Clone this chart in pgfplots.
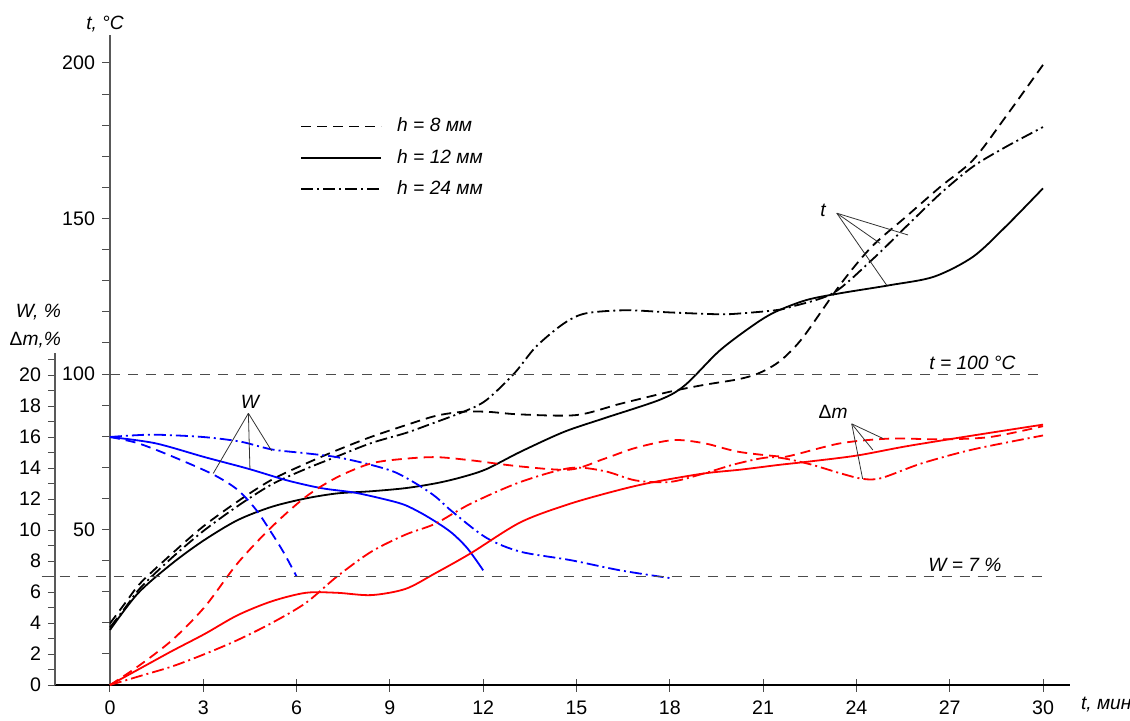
\documentclass[border=0pt]{standalone}
\usepackage{fontspec}
\setmainfont{Liberation Sans}
\usepackage{pgfplots}
\pgfplotsset{compat=1.18}
\pgfplotsset{
  base/.style={scale only axis, clip=false,
    tick label style={font=\fontsize{9.8}{11}\selectfont, black},
    /pgf/number format/assume math mode=true,
    axis line style={-},
    every tick/.style={black!70, line width=0.5pt}},
}
\tikzset{
  dsh/.style={line width=0.9pt, dash pattern=on 5pt off 3pt},
  sol/.style={line width=0.9pt},
  dd/.style={line width=0.9pt, dash pattern=on 6pt off 2pt on 1pt off 2pt},
  ann/.style={line width=0.4pt, black!80},
}
\begin{document}
\begin{tikzpicture}[font=\fontsize{9.6}{11}\selectfont]
\useasboundingbox (-27.5pt,-17.5pt) rectangle (537.5pt,342.5pt);

% ---------- x axis ----------
\begin{axis}[base, at={(0pt,0pt)}, anchor=south west,
  width=507.5pt, height=325pt,
  xmin=-1.768, xmax=30.868, ymin=0, ymax=209,
  axis x line=bottom, axis y line=none,
  x axis line style={-, black, line width=0.6pt},
  xtick={0,3,...,30}, tick align=center, major tick length=6.5pt,
  xticklabel style={yshift=-1pt}]
\node[anchor=west, font=\fontsize{9.6}{11}\selectfont\itshape] at (axis cs:30.868,0) [xshift=2pt, yshift=-10pt] {t, мин};
\end{axis}

% ---------- t axis with black curves ----------
\begin{axis}[base, at={(27.5pt,0pt)}, anchor=south west,
  width=466.5pt, height=325pt,
  xmin=0, xmax=30, ymin=0, ymax=209,
  axis y line=left, axis x line=none,
  y axis line style={-, black!65, line width=0.6pt},
  every outer y axis line/.append style={-},
  ytick={50,100,150,200}, minor ytick={10,20,...,200},
  tick align=outside, major tick length=4pt, minor tick length=4pt,
  legend style={at={(axis cs:6.11,169.5)}, anchor=west, draw=none, fill=none,
    inner sep=0pt, row sep=7.2pt, column sep=7.5pt,
    font=\fontsize{9.6}{11}\selectfont\itshape,
    nodes={inner sep=0pt}},
  legend cell align=left,
  legend image code/.code={\draw[#1] (0pt,0pt) -- (40pt,0pt);}]
\addplot[black, dsh, smooth, tension=0.5] table {
0 19.8
0.5 26.5
1 33
2 42.3
3 51
4.1 59
5.2 66
6.3 71.2
7.3 75.5
8.4 79.8
9.5 83.5
10.5 86.6
11.4 87.9
12.2 87.8
13.2 87
15 86.8
16.4 90.4
18 94.3
19.1 96.5
20.2 98.3
20.8 100
21.3 102.5
21.7 105.5
22.3 112
23.5 129
24.5 141
25.6 150.6
26.7 160.2
27.75 168.8
28.8 182.7
30 199.4
};
\addlegendentry{h = 8 мм}
\addplot[black, sol, smooth, tension=0.5] table {
0 17.7
0.9 29.5
2 39.1
3 46.4
4.1 53
5.2 57.3
6.3 60
7.3 61.6
8.4 62.3
9.5 63.3
10.5 64.9
11.3 66.8
12.1 69.4
13.2 75
14.6 81.4
15.9 85.8
17.7 91.8
18.5 96.5
19.6 107.5
20.7 115.8
21.4 120
22.4 123.8
23.5 126
25.1 128.6
26.5 131.3
27.75 137.7
28.8 147.4
30 159.7
};
\addlegendentry{h = 12 мм}
\addplot[black, dd, smooth, tension=0.5] table {
0 18.5
0.5 25
1 31.5
2 41
3 49.5
4.1 57.5
5.2 64.5
6.3 69.5
7.3 73.5
8.4 77.8
9.5 81
10.2 83.5
11.4 88
12.1 91.6
13 100.2
13.7 108.8
14.6 116.3
15.3 119.5
16.6 120.5
18 119.8
19.6 119.2
20.3 119.5
21.4 120.5
21.9 121.6
23.25 126
24.5 136.7
25.6 147.4
26.7 158
27.75 166.7
28.8 173
30 179.4
};
\addlegendentry{h = 24 мм}
\addplot[black!70, line width=0.5pt, dash pattern=on 5pt off 4pt, forget plot] coordinates {(0,100) (30,100)};
\node[font=\fontsize{9.6}{11}\selectfont\itshape] at (axis cs:27.73,103.7) {t = 100 °C};
\node[font=\fontsize{9.6}{11}\selectfont\itshape] at (axis cs:-0.16,212.5) {t, °C};
% annotation t
\node[font=\fontsize{9.6}{11}\selectfont\itshape] at (axis cs:22.93,152.7) {t};
\draw[ann] (axis cs:23.37,151.7) -- (axis cs:25.66,144.7);
\draw[ann] (axis cs:23.37,151.7) -- (axis cs:24.76,142.0);
\draw[ann] (axis cs:23.37,151.7) -- (axis cs:24.97,128.6);
\end{axis}

% ---------- W / dm axis with blue and red curves ----------
\begin{axis}[base, at={(0pt,0pt)}, anchor=south west,
  width=507.5pt, height=166pt,
  xmin=-1.768, xmax=30.868, ymin=0, ymax=21.42,
  axis y line=left, axis x line=none,
  y axis line style={-, black!65, line width=0.6pt},
  every outer y axis line/.append style={-},
  ytick={0,2,...,20}, minor ytick={1,3,...,21},
  tick align=outside, major tick length=3.5pt, minor tick length=3.5pt]
% W curves (blue)
\addplot[blue, dsh, smooth, tension=0.5] table {
0 16
0.9 15.6
2 14.75
3.3 13.6
4.1 12.6
4.7 11.3
5.2 9.8
5.6 8.5
6 7.0
};
\addplot[blue, sol, smooth, tension=0.5] table {
0 16
1.45 15.6
3.05 14.7
4.45 13.95
5.7 13.2
6.8 12.7
7.9 12.4
9 11.9
9.5 11.6
10 11.1
10.5 10.5
11 9.8
11.5 8.8
12 7.4
};
\addplot[blue, dd, smooth, tension=0.5] table {
0 16
0.7 16.1
1.5 16.15
3 16.0
4.2 15.7
5.2 15.2
6.3 14.95
7.3 14.7
8.4 14.2
9.2 13.7
10 12.8
10.5 12.1
11 11.2
12.1 9.5
13.2 8.6
14.8 8.06
16.4 7.4
18 6.9
};
% dm curves (red)
\addplot[red, dsh, smooth, tension=0.5] table {
0 0
0.9 1.2
2 2.9
3.05 5.05
4.1 7.85
5.2 10.2
6.3 12.15
7.3 13.4
8.4 14.3
9.5 14.6
10.5 14.7
11.6 14.5
13.2 14.1
14.8 13.9
15.9 14.6
16.9 15.3
18.1 15.8
19.1 15.6
20.2 15.05
21.5 14.75
21.9 14.8
23.5 15.6
25.1 15.9
26.7 15.85
28.3 16.0
30 16.7
};
\addplot[red, sol, smooth, tension=0.5] table {
0 0
1 1.1
2 2.2
3.05 3.3
4.1 4.5
5.2 5.4
6.3 5.95
7.3 5.95
8.4 5.8
9.5 6.2
10.45 7.2
11.6 8.5
13.2 10.5
14.8 11.7
16.4 12.6
17.5 13.1
19.1 13.65
20.3 13.9
21.5 14.2
22.4 14.4
24 14.8
25.6 15.4
27.75 16.1
30 16.8
};
\addplot[red, dd, smooth, tension=0.5] table {
0 0
1 0.6
2 1.2
3.05 2.0
4.1 2.9
5.2 4.0
6.3 5.3
7.3 7.0
8.4 8.6
9.5 9.7
10.45 10.4
11.6 11.7
13.2 13.1
14.8 14.0
15.9 13.8
16.9 13.2
18 13.1
19.1 13.65
20.2 14.3
21.3 14.7
22.4 14.3
23.5 13.65
24.2 13.3
24.8 13.35
26.1 14.3
27.75 15.2
30 16.1
};
\addplot[black!70, line width=0.5pt, dash pattern=on 5pt off 4pt] coordinates {(-2.2,7) (30,7)};
\node[font=\fontsize{9.6}{11}\selectfont\itshape] at (axis cs:27.49,7.74) {W = 7 \%};
\node[anchor=east, font=\fontsize{9.6}{11}\selectfont\itshape] at (axis cs:-1.35,24.06) {W, \%};
\node[anchor=east, font=\fontsize{9.6}{11}\selectfont\itshape] at (axis cs:-1.35,22.26) {{\upshape Δ}m,\%};
% annotation W
\node[font=\fontsize{9.6}{11}\selectfont\itshape] at (axis cs:4.5,18.28) {W};
\draw[ann] (axis cs:4.45,17.53) -- (axis cs:3.32,13.65);
\draw[ann] (axis cs:4.45,17.53) -- (axis cs:4.5,13.95);
\draw[ann] (axis cs:4.45,17.53) -- (axis cs:5.2,15.1);
% annotation dm
\node[font=\fontsize{9.6}{11}\selectfont\itshape] at (axis cs:23.25,17.63) {{\upshape Δ}m};
\draw[ann] (axis cs:23.85,16.85) -- (axis cs:24.86,15.9);
\draw[ann] (axis cs:23.85,16.85) -- (axis cs:24.53,15.16);
\draw[ann] (axis cs:23.85,16.85) -- (axis cs:24.2,13.3);
\end{axis}
\end{tikzpicture}
\end{document}
